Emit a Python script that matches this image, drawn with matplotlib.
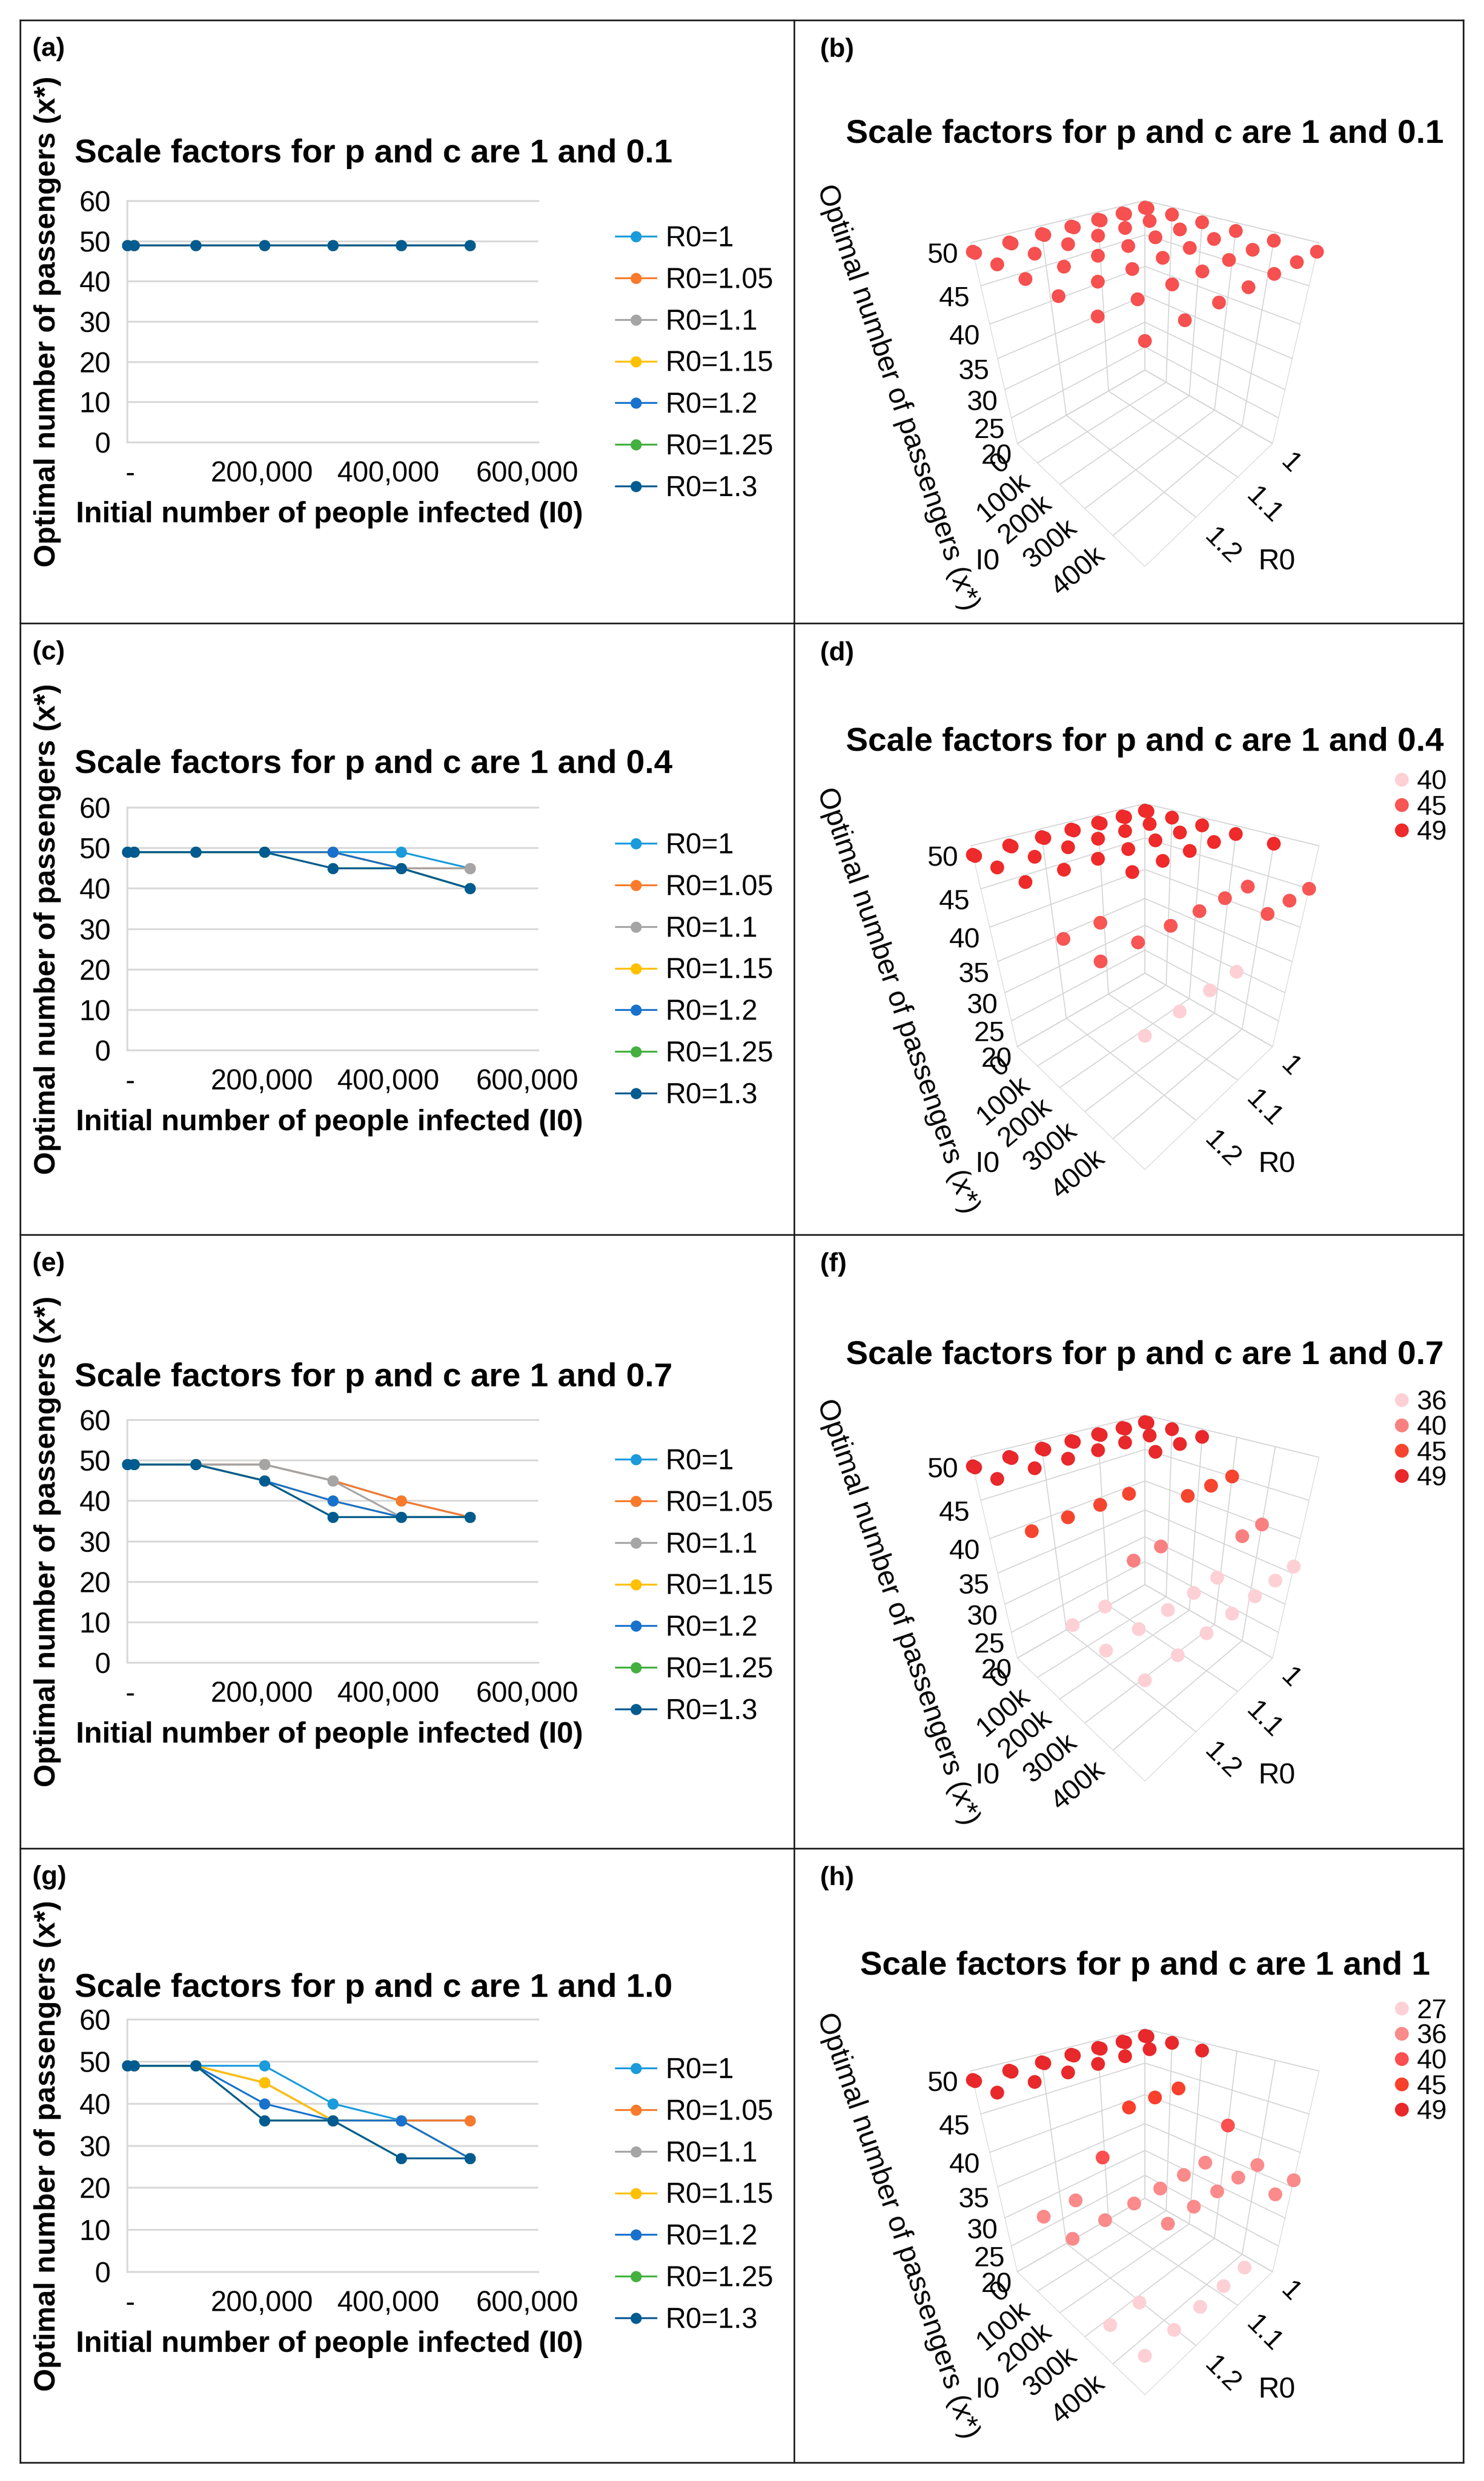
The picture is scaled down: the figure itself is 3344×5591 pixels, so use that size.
import numpy as np
import matplotlib
matplotlib.use('Agg')
import matplotlib.pyplot as plt
import matplotlib.transforms as mtransforms
from matplotlib.lines import Line2D
from matplotlib.ticker import FuncFormatter

plt.rcParams['font.family'] = ['Liberation Sans', 'DejaVu Sans']
plt.rcParams['grid.color'] = '#D4D4D4'
plt.rcParams['grid.linewidth'] = 1.6

W, H = 3344, 5591

# ---------------- data ----------------
I0 = [1, 10000, 100000, 200000, 300000, 400000, 500000]
R0 = [1.0, 1.05, 1.1, 1.15, 1.2, 1.25, 1.3]
R0_labels = ['R0=1', 'R0=1.05', 'R0=1.1', 'R0=1.15', 'R0=1.2', 'R0=1.25', 'R0=1.3']
line_colors = ['#1A9BDB', '#F97A2B', '#A5A5A5', '#FFC000', '#1872CD', '#44B040', '#005B90']

# optimal number of passengers, one row per R0, columns follow I0
xstar_c01 = [
    [49, 49, 49, 49, 49, 49, 49],
    [49, 49, 49, 49, 49, 49, 49],
    [49, 49, 49, 49, 49, 49, 49],
    [49, 49, 49, 49, 49, 49, 49],
    [49, 49, 49, 49, 49, 49, 49],
    [49, 49, 49, 49, 49, 49, 49],
    [49, 49, 49, 49, 49, 49, 49],
]
xstar_c04 = [
    [49, 49, 49, 49, 49, 49, 45],
    [49, 49, 49, 49, 49, 45, 45],
    [49, 49, 49, 49, 49, 45, 45],
    [49, 49, 49, 49, 49, 45, 40],
    [49, 49, 49, 49, 49, 45, 40],
    [49, 49, 49, 49, 45, 45, 40],
    [49, 49, 49, 49, 45, 45, 40],
]
xstar_c07 = [
    [49, 49, 49, 49, 45, 40, 36],
    [49, 49, 49, 49, 45, 40, 36],
    [49, 49, 49, 49, 45, 36, 36],
    [49, 49, 49, 45, 40, 36, 36],
    [49, 49, 49, 45, 40, 36, 36],
    [49, 49, 49, 45, 36, 36, 36],
    [49, 49, 49, 45, 36, 36, 36],
]
xstar_c10 = [
    [49, 49, 49, 49, 40, 36, 36],
    [49, 49, 49, 45, 36, 36, 36],
    [49, 49, 49, 45, 36, 36, 27],
    [49, 49, 49, 45, 36, 36, 27],
    [49, 49, 49, 40, 36, 36, 27],
    [49, 49, 49, 36, 36, 27, 27],
    [49, 49, 49, 36, 36, 27, 27],
]
titles_2d = ['Scale factors for p and c are 1 and 0.1', 'Scale factors for p and c are 1 and 0.4',
             'Scale factors for p and c are 1 and 0.7', 'Scale factors for p and c are 1 and 1.0']
titles_3d = ['Scale factors for p and c are 1 and 0.1', 'Scale factors for p and c are 1 and 0.4',
             'Scale factors for p and c are 1 and 0.7', 'Scale factors for p and c are 1 and 1']
labels_2d = ['(a)', '(c)', '(e)', '(g)']
labels_3d = ['(b)', '(d)', '(f)', '(h)']
colors_3d = [
    {49: '#F65050'},
    {40: '#FDD0D6', 45: '#F85555', 49: '#EE2A2A'},
    {36: '#FDD0D6', 40: '#F98080', 45: '#F6452F', 49: '#E8282B'},
    {27: '#FDD0D6', 36: '#FB8A8A', 40: '#FC4F4F', 45: '#F8402C', 49: '#E8282B'},
]
panels = [xstar_c01, xstar_c04, xstar_c07, xstar_c10]

# ---------------- layout (pixels) ----------------
row_tops = [46, 1405, 2783, 4166]
bottom_edge = 5550
left_edge, right_edge, col_div = 46, 3298, 1790
plot_y60 = [453, 1820, 3200, 4551]
plot_y0 = [997, 2367, 3747, 5120]
leg_first_2d = [538, 1906, 3294, 4666]
title_base_2d = [366, 1742, 3124, 4500]
title_base_3d = [322, 1692, 3074, 4450]
leg_first_3d = [None, 1763, 3161, 4532]
xtick_shift_px = [6, -5, -29, -25]   # horizontal nudges of the 2D x tick labels

fig = plt.figure(figsize=(W / 100, H / 100), dpi=100)
fig.patch.set_facecolor('white')


def fx(x):
    return x / W


def fy(y):
    return 1 - y / H


# borders
bc = '#1A1A1A'
blw = 2.6
for y in [row_tops[0]] + row_tops[1:] + [bottom_edge]:
    fig.add_artist(Line2D([fx(left_edge), fx(right_edge)], [fy(y), fy(y)], transform=fig.transFigure,
                          color=bc, lw=blw))
for x in [left_edge, col_div, right_edge]:
    fig.add_artist(Line2D([fx(x), fx(x)], [fy(row_tops[0]), fy(bottom_edge)], transform=fig.transFigure,
                          color=bc, lw=blw))

grid_c = '#D9D9D9'
LEG2D_FS = 46

for k in range(4):
    data = panels[k]
    y60, y0 = plot_y60[k], plot_y0[k]
    ax = fig.add_axes([fx(287), fy(y0), (1213 - 287) / W, (y0 - y60) / H])
    for i in range(len(R0)):
        ax.plot(I0, data[i], color=line_colors[i], lw=3, marker='o', ms=17,
                mfc=line_colors[i], mec=line_colors[i], clip_on=False, zorder=3 + i)
    ax.set_xlim(0, 600000)
    ax.set_ylim(0, 60)
    ax.set_yticks(range(0, 61, 10))
    ax.set_xticks([0, 200000, 400000, 600000])
    ax.xaxis.set_major_formatter(FuncFormatter(lambda v, p: '-' if v == 0 else f'{int(v):,}'))
    ax.grid(axis='y', color=grid_c, lw=3)
    ax.set_axisbelow(True)
    ax.spines['right'].set_visible(False)
    for s in ['left', 'top', 'bottom']:
        ax.spines[s].set_color(grid_c)
        ax.spines[s].set_linewidth(3)
    ax.tick_params(length=0, labelsize=46, pad=27)
    ax.tick_params(axis='x', pad=30)
    for tick, dx in zip(ax.xaxis.get_major_ticks(), xtick_shift_px):
        lab = tick.label1
        lab.set_transform(lab.get_transform() +
                          mtransforms.ScaledTranslation(dx / 100, 0, fig.dpi_scale_trans))
    handles = [Line2D([], [], color=c, lw=3, marker='o', ms=17, mfc=c, mec=c) for c in line_colors]
    ax.legend(handles, R0_labels, loc='upper left',
              bbox_to_anchor=(fx(1388), fy(leg_first_2d[k] - 0.465 * LEG2D_FS * 100 / 72)),
              bbox_transform=fig.transFigure,
              frameon=False, fontsize=LEG2D_FS, handlelength=1.42, handletextpad=0.33,
              labelspacing=0.53, borderpad=0, borderaxespad=0)
    fig.text(fx(842), fy(title_base_2d[k]), titles_2d[k], fontsize=54, fontweight='bold',
             ha='center', va='baseline')
    fig.text(fx(73), fy(row_tops[k] + 65), labels_2d[k], fontsize=43, fontweight='bold',
             ha='left', va='center')
    fig.text(fx(107), fy((y0 + y60) / 2), 'Optimal number of passengers (x*)', fontsize=48,
             fontweight='bold', rotation=90, ha='center', va='center')
    fig.text(fx(742), fy(y0 + 163), 'Initial number of people infected (I0)', fontsize=48,
             fontweight='bold', ha='center', va='center')

# ---------------- 3D panels ----------------
side = 1250
LEG3D_FS = 44
for k in range(4):
    data = np.array(panels[k])
    rt = row_tops[k]
    cx, cy = 2563, rt + 779
    ax = fig.add_axes([fx(cx - side / 2), fy(cy + side / 2), side / W, side / H], projection='3d')
    ax.set_proj_type('persp', focal_length=0.141)
    ax.view_init(elev=33.6, azim=45)
    ax.set_box_aspect((1, 1, 1.13), zoom=0.66)
    RR, II = np.meshgrid(R0, I0, indexing='ij')
    cmap = colors_3d[k]
    for v in sorted(cmap):
        m = data == v
        ax.scatter(RR[m], II[m], data[m], s=500, c=cmap[v], depthshade=False,
                   edgecolors='none', label=str(v))
    ax.set_xlim(1.0, 1.3)
    ax.set_ylim(0, 500000)
    ax.set_zlim(20, 50)
    ax.set_xticks([1.0, 1.1, 1.2], ['1', '1.1', '1.2'], rotation=-45, ha='left', fontsize=45)
    ax.set_yticks([0, 100000, 200000, 300000, 400000], ['0', '100k', '200k', '300k', '400k'],
                  rotation=40, ha='right', fontsize=45)
    ax.set_zticks(range(20, 51, 5), [str(t) for t in range(20, 51, 5)], fontsize=45)
    ax.tick_params(axis='z', pad=30)
    ax.tick_params(axis='x', pad=2)
    ax.tick_params(axis='y', pad=2)
    for axis in (ax.xaxis, ax.yaxis, ax.zaxis):
        axis.set_pane_color((1, 1, 1, 1))
        axis.pane.set_edgecolor('#D4D4D4')
        axis.line.set_color((1, 1, 1, 0))
        axis._axinfo['tick']['inward_factor'] = 0
        axis._axinfo['tick']['outward_factor'] = 0
        axis._axinfo['grid']['color'] = '#D4D4D4'
        axis._axinfo['grid']['linewidth'] = 1.6
    ax.set_facecolor('none')
    if leg_first_3d[k] is not None:
        ax.legend(loc='upper left',
                  bbox_to_anchor=(fx(3143), fy(leg_first_3d[k] - 0.465 * LEG3D_FS * 100 / 72)),
                  bbox_transform=fig.transFigure, frameon=False, fontsize=LEG3D_FS,
                  handlelength=0.52, handletextpad=0.3, labelspacing=0.0, borderpad=0,
                  borderaxespad=0, scatteryoffsets=[0.5])
    fig.text(fx(2580), fy(title_base_3d[k]), titles_3d[k], fontsize=54, fontweight='bold',
             ha='center', va='baseline')
    fig.text(fx(1848), fy(rt + 67), labels_3d[k], fontsize=43, fontweight='bold',
             ha='left', va='center')
    fig.text(fx(2022), fy(rt + 850), 'Optimal number of passengers (x*)', fontsize=47,
             rotation=-71, ha='center', va='center')
    fig.text(fx(2225), fy(rt + 1220), 'I0', fontsize=47, ha='center', va='center')
    fig.text(fx(2877), fy(rt + 1220), 'R0', fontsize=47, ha='center', va='center')

fig.savefig('out.png', dpi=100, facecolor='white')
